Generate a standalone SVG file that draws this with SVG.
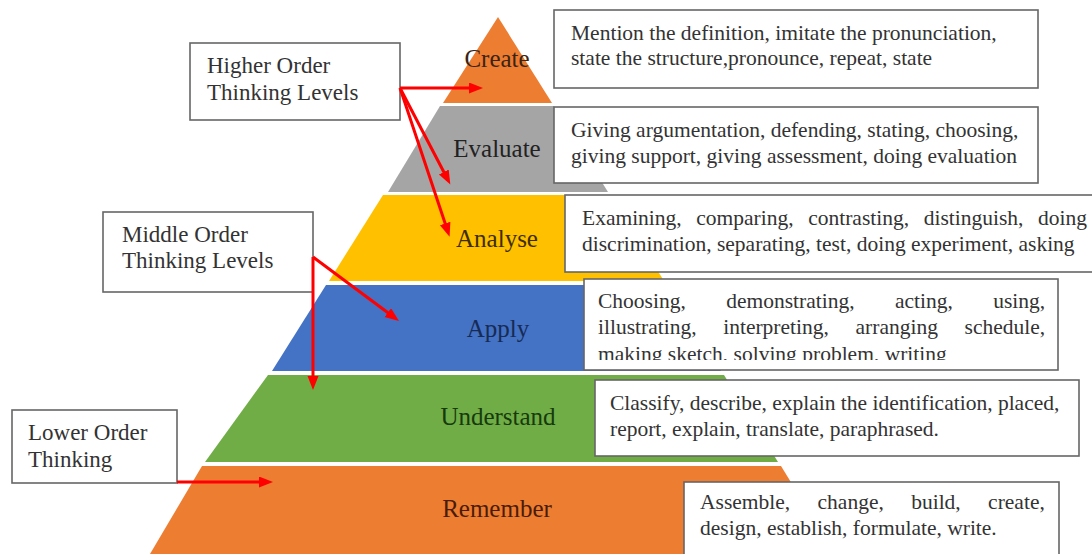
<svg xmlns="http://www.w3.org/2000/svg" width="1092" height="554" viewBox="0 0 1092 554">
<style>
.lbl{font-family:"Liberation Serif","Times New Roman",serif;font-size:25px;text-anchor:middle}
.box{fill:#fff;stroke:#666;stroke-width:1.6}
.bt{font-family:"Liberation Serif","Times New Roman",serif;font-size:21.5px;fill:#333}
.lt{font-family:"Liberation Serif","Times New Roman",serif;font-size:23px;fill:#333}
.arr{fill:none;stroke:#f00;stroke-width:3;marker-end:url(#ah)}
</style>
<defs>
<marker id="ah" markerUnits="userSpaceOnUse" markerWidth="15" markerHeight="12" refX="9" refY="5.5" orient="auto">
<path d="M0,0 L14,5.5 L0,11 z" fill="#f00"/>
</marker>
<clipPath id="clip4"><rect x="584" y="279" width="474" height="81"/></clipPath>
</defs>
<rect width="1092" height="554" fill="#fff"/>
<g id="layer-create"><polygon points="498,17 443,103 552,103" fill="#ED7D31"/><text class="lbl" x="497" y="67" fill="#3b2414">Create</text></g>
<g id="layer-evaluate"><polygon points="440,106 554,106 608,192 388,192" fill="#A5A5A5"/><text class="lbl" x="497" y="157" fill="#222">Evaluate</text></g>
<g id="layer-analyse"><polygon points="383,195 610,195 664,281 329,281" fill="#FFC000"/><text class="lbl" x="497" y="247" fill="#3d2e00">Analyse</text></g>
<g id="layer-apply"><polygon points="326,285 667,285 721,371 272,371" fill="#4472C4"/><text class="lbl" x="498" y="337" fill="#172b55">Apply</text></g>
<g id="layer-understand"><polygon points="268,375 724,375 778,462 205,462" fill="#70AD47"/><text class="lbl" x="498" y="425" fill="#173a0c">Understand</text></g>
<g id="layer-remember"><polygon points="202,466 781,466 835,554 150,554" fill="#ED7D31"/><text class="lbl" x="497" y="517" fill="#4a1c08">Remember</text></g>

<g id="box-higher"><rect class="box" x="190" y="43" width="210" height="77"/><text class="lt" x="207" y="73">Higher Order</text><text class="lt" x="207" y="100">Thinking Levels</text></g>
<g id="box-middle"><rect class="box" x="103" y="212" width="210" height="80"/><text class="lt" x="122" y="242">Middle Order</text><text class="lt" x="122" y="268">Thinking Levels</text></g>
<g id="box-lower"><rect class="box" x="12" y="410" width="165" height="73"/><text class="lt" x="28" y="440">Lower Order</text><text class="lt" x="28" y="467">Thinking</text></g>

<g id="box-create"><rect class="box" x="554" y="10" width="484" height="78"/><text class="bt" x="571" y="40">Mention the definition, imitate the pronunciation,</text><text class="bt" x="571" y="65">state the structure,pronounce, repeat, state</text></g>
<g id="box-evaluate"><rect class="box" x="554" y="107" width="484" height="76"/><text class="bt" x="571" y="137">Giving argumentation, defending, stating, choosing,</text><text class="bt" x="571" y="163">giving support, giving assessment, doing evaluation</text></g>
<g id="box-analyse"><rect class="box" x="565" y="195" width="540" height="77"/><text class="bt" x="582" y="225" word-spacing="9.2">Examining, comparing, contrasting, distinguish, doing</text><text class="bt" x="582" y="251">discrimination, separating, test, doing experiment, asking</text></g>
<g id="box-apply"><rect class="box" x="584" y="279" width="474" height="91"/><text class="bt" x="598" y="308" word-spacing="35">Choosing, demonstrating, acting, using,</text><text class="bt" x="598" y="334" word-spacing="21.3">illustrating, interpreting, arranging schedule,</text><text class="bt" x="598" y="361" clip-path="url(#clip4)">making sketch, solving problem, writing</text></g>
<g id="box-understand"><rect class="box" x="595" y="380" width="484" height="76"/><text class="bt" x="610" y="410">Classify, describe, explain the identification, placed,</text><text class="bt" x="610" y="436">report, explain, translate, paraphrased.</text></g>
<g id="box-remember"><rect class="box" x="684" y="482" width="375" height="80"/><text class="bt" x="700" y="509" word-spacing="22">Assemble, change, build, create,</text><text class="bt" x="700" y="535">design, establish, formulate, write.</text></g>

<g id="connectors">
<path class="arr" d="M400,88 L478,88"/>
<path class="arr" d="M400,88 L448,180"/>
<path class="arr" d="M400,88 L448,232"/>
<path class="arr" d="M313,257 L395,318"/>
<path class="arr" d="M313,257 L313,385"/>
<path class="arr" d="M177,482 L268,482"/>
</g>
</svg>
